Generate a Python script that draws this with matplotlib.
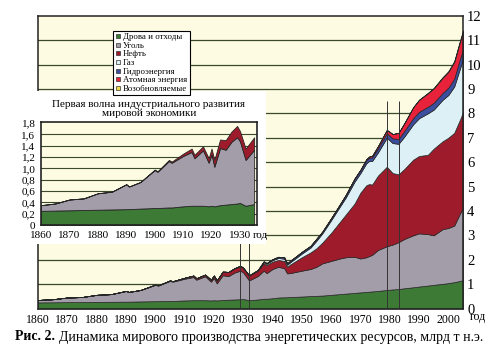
import matplotlib.pyplot as plt
from matplotlib.lines import Line2D
import numpy as np

plt.rcParams['font.family'] = ['Liberation Serif', 'DejaVu Serif']

# годы и производство по источникам, млрд т н.э.
years = [1860, 1865, 1870, 1875, 1880, 1885, 1890, 1891, 1895, 1900,
         1901, 1905, 1906, 1910, 1913, 1914, 1917, 1919, 1920, 1921,
         1923, 1925, 1927, 1929, 1930, 1932, 1935, 1937, 1938, 1940,
         1942, 1944, 1945, 1946, 1950, 1953, 1955, 1957, 1960, 1963,
         1965, 1968, 1970, 1972, 1973, 1974, 1976, 1979, 1981, 1983,
         1985, 1988, 1990, 1993, 1995, 1998, 2000, 2002, 2004, 2005]

wood = [.25, .255, .26, .265, .27, .275, .28, .28, .29, .30,
        .30, .31, .31, .33, .34, .34, .34, .33, .34, .33,
        .35, .36, .37, .38, .39, .34, .37, .40, .40, .42,
        .45, .46, .46, .47, .49, .51, .52, .53, .56, .59,
        .61, .64, .66, .68, .69, .70, .72, .76, .78, .80,
        .83, .87, .90, .94, .97, 1.01, 1.04, 1.08, 1.13, 1.16]

coal = [.10, .125, .19, .205, .29, .315, .44, .40, .47, .67,
        .64, .82, .79, .89, .95, .84, .98, .77, .91, .70,
        1.01, .97, 1.10, 1.17, 1.09, .81, .96, 1.15, 1.05, 1.20,
        1.26, 1.19, .98, .98, 1.06, 1.11, 1.19, 1.32, 1.39, 1.46,
        1.49, 1.48, 1.39, 1.42, 1.46, 1.50, 1.68, 1.79, 1.84, 1.92,
        2.02, 2.13, 2.18, 2.11, 2.03, 2.24, 2.26, 2.32, 2.77, 2.94]

oil = [0, 0, 0, 0, 0, 0, 0, 0, 0, .01,
       .01, .02, .02, .04, .06, .06, .07, .08, .10, .12,
       .15, .17, .18, .20, .18, .20, .22, .30, .33, .30,
       .28, .30, .27, .35, .55, .68, .76, .85, 1.15, 1.50,
       1.75, 2.18, 2.70, 2.95, 2.95, 2.88, 3.05, 3.26, 2.93, 2.78,
       2.87, 3.10, 3.17, 3.25, 3.55, 3.60, 3.70, 3.80, 3.85, 3.95]

gas = [0] * 24 + [.01, .01, .02, .05, .05, .06,
                  .08, .09, .08, .09, .15, .20, .31, .38, .52, .63,
                  .70, .90, .80, .90, .95, .97, .95, 1.19, 1.23, 1.25,
                  1.33, 1.45, 1.55, 1.70, 1.60, 1.70, 1.75, 1.90, 2.10, 2.15]

hydro = [0] * 26 + [.01, .03, .03, .04,
                    .05, .06, .06, .06, .07, .07, .08, .07, .08, .09,
                    .10, .12, .12, .13, .13, .15, .17, .18, .19, .20,
                    .23, .25, .26, .27, .28, .28, .30, .32, .40, .40]

nuclear = [0] * 40 + [.01, .01, .02, .04, .05, .06, .09, .14, .18, .25,
                      .32, .45, .49, .55, .59, .62, .65, .68, .70, .75]

renew = [0] * 52 + [.01, .02, .02, .03, .03, .04, .05, .05]

names = ['Дрова и отходы', 'Уголь', 'Нефть', 'Газ', 'Гидроэнергия',
         'Атомная энергия', 'Возобновляемые']
colors = ['#3d7a36', '#a29da8', '#9e1b2b', '#dcf0f5', '#3c4e9e',
          '#e8223a', '#f0da48']

crisis_years = [1929, 1932, 1979, 1983]

bg = '#fdfbe2'
grid_c = '#3b4a2c'
edge_c = '#262626'

fig = plt.figure(figsize=(4.95, 3.55), dpi=100)

# основной график
ax = fig.add_axes([38/495, 46.5/355, 425/495, 292.8/355])
ax.set_facecolor(bg)
ax.stackplot(years, wood, coal, oil, gas, hydro, nuclear, renew,
             colors=colors, edgecolor=edge_c, linewidth=0.5, zorder=2)
for v in range(1, 12):
    ax.axhline(v, color=grid_c, lw=0.9, zorder=1)
ax.vlines(crisis_years[:2], 0, 3, color='#333333', lw=0.7, zorder=3)
ax.vlines(crisis_years[2:], 0, 8.5, color='#333333', lw=0.7, zorder=3)
ax.set_xlim(1860, 2005)
ax.set_ylim(0, 12)
ax.yaxis.tick_right()
ax.set_yticks(range(0, 13))
ax.tick_params(axis='y', length=0, labelsize=10.5, pad=3)
ax.set_xticks(range(1860, 2001, 10))
ax.tick_params(axis='x', length=0, labelsize=8.5, pad=4)
for s in ax.spines.values():
    s.set_linewidth(1.1)
    s.set_color('#222222')
fig.text(478/495, 1 - 317/355, 'год', fontsize=8.5, ha='center', va='center')

# белая подложка под врезку
panel = fig.add_axes([4/495, 1 - 244/355, 262/495, 153/355])
panel.set_facecolor('white')
panel.set_xticks([])
panel.set_yticks([])
for s in panel.spines.values():
    s.set_visible(False)

# врезка: первая волна
yrs = np.array(years)
m = yrs <= 1936
ins = fig.add_axes([41/495, 1 - 225/355, 216/495, 103/355])
ins.set_facecolor(bg)
ins.stackplot(yrs[m], np.array(wood)[m], np.array(coal)[m], np.array(oil)[m],
              colors=colors[:3], edgecolor=edge_c, linewidth=0.6, zorder=2)
for v in np.arange(0.2, 1.7, 0.2):
    ins.axhline(v, color=grid_c, lw=0.8, zorder=1)
ins.set_xlim(1860, 1936)
ins.set_ylim(0, 1.82)
yt = np.arange(0, 1.81, 0.2)
ins.set_yticks(yt)
ins.set_yticklabels(['0'] + [f'{v:.1f}'.replace('.', ',') for v in yt[1:]])
ins.set_xticks(range(1860, 1931, 10))
ins.tick_params(length=0, labelsize=8, pad=4)
for s in ins.spines.values():
    s.set_linewidth(1.2)
    s.set_color('#222222')
ins.set_title('Первая волна индустриального развития\nмировой экономики',
              fontsize=8, linespacing=1.0, pad=4)
fig.text(260/495, 1 - 236/355, 'год', fontsize=8, ha='center', va='center')

# легенда
handles = [Line2D([], [], ls='none', marker='s', markersize=3.5,
                  markerfacecolor=c, markeredgecolor='#333333',
                  markeredgewidth=0.5) for c in colors]
leg = fig.legend(handles, names, loc='upper left',
                 bbox_to_anchor=(113/495, 1 - 31/355), fontsize=6.3,
                 frameon=True, fancybox=False, edgecolor='black',
                 framealpha=1, labelspacing=0.05, handlelength=0.6,
                 handletextpad=0.3, borderpad=0.25, borderaxespad=0)
leg.get_frame().set_linewidth(0.8)

# подпись
cap_y = 1 - 337/355
t1 = fig.text(15/495, cap_y, 'Рис. 2.', fontsize=10, fontweight='bold',
              va='center')
r = fig.canvas.get_renderer()
bb = t1.get_window_extent(renderer=r)
fig.text((bb.x1 + 4) / fig.bbox.width, cap_y,
         'Динамика мирового производства энергетических ресурсов, млрд т н.э.',
         fontsize=10, va='center')

fig.savefig('out.png', dpi=100)
